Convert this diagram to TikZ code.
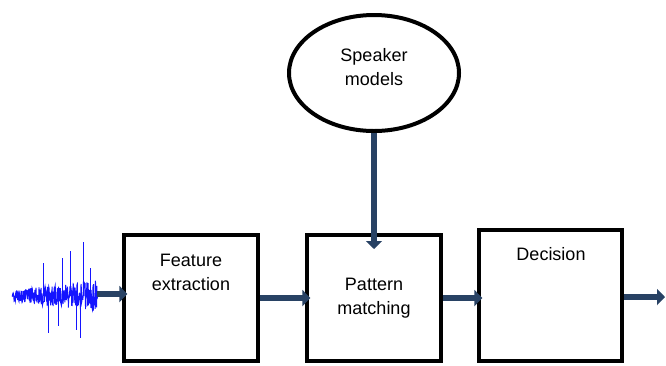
\documentclass[tikz,border=0pt]{standalone}
\usepackage{fontspec}
\setmainfont{Liberation Sans}
\usetikzlibrary{arrows.meta,shapes.geometric}
\definecolor{flowNavy}{RGB}{40,66,100}
\definecolor{waveBlue}{RGB}{20,20,255}

\begin{document}
\begin{tikzpicture}[x=0.75pt,y=-0.75pt,
  font=\fontsize{13.5pt}{18pt}\selectfont,
  stage/.style={draw, line width=3pt, inner sep=0pt, minimum width=100.5pt, minimum height=94.5pt},
  txt/.style={align=center, inner sep=0pt},
  flow/.style={flowNavy, line width=4pt, -{Triangle[width=12pt,length=6pt]}},
  sig/.style={waveBlue, line width=0.7pt}]
  \useasboundingbox (0,0) rectangle (666,365);
  % Speaker models on top, three stages in a row below
  \node[draw, ellipse, line width=3pt, inner sep=0pt, minimum width=127.5pt, minimum height=87pt] (models) at (374,73) {};
  \node[txt] (modelsTxt) at (374,67.5) {Speaker\\models};
  \node[stage] (feat) at (191,298) {};
  \node[stage] (match) at (374,298) {};
  \node[stage, minimum width=107.25pt, minimum height=98.25pt] (decide) at (550.5,295.5) {};
  \node[txt] (featTxt) at (191,272.5) {Feature\\extraction};
  \node[txt] (matchTxt) at (374,298.5) {Pattern\\matching};
  \node[txt] (decideTxt) at (551,254) {Decision};
  % Speech signal: noisy band plus a few spikes
  \pgfmathsetseed{11}
  \draw[sig] (12,296) \foreach \i in {1,...,285} { -- ({12+\i*0.3}, {296+(6+\i/30)*rand}) };
  \foreach \sx/\sy in {43/263, 48/333, 58/326, 62/258, 70/251, 76/330, 80/338, 83/242, 90/268}
    \draw[sig, line width=0.4pt] (\sx,296) -- (\sx,\sy);
  \coordinate (wave) at (97,294);
  \coordinate (out) at (665,297);
  % Connectors
  \draw[flow, shorten >=-4pt] (wave) -- (wave -| feat.west);
  \draw[flow, shorten >=-4pt] (feat) -- (match);
  \draw[flow, shorten >=-4pt] (match.east) -- (match.east -| decide.west);
  \draw[flow] (decide.east |- out) -- (out);
  \draw[flow, shorten >=-12pt] (models) -- (match);
\end{tikzpicture}
\end{document}
